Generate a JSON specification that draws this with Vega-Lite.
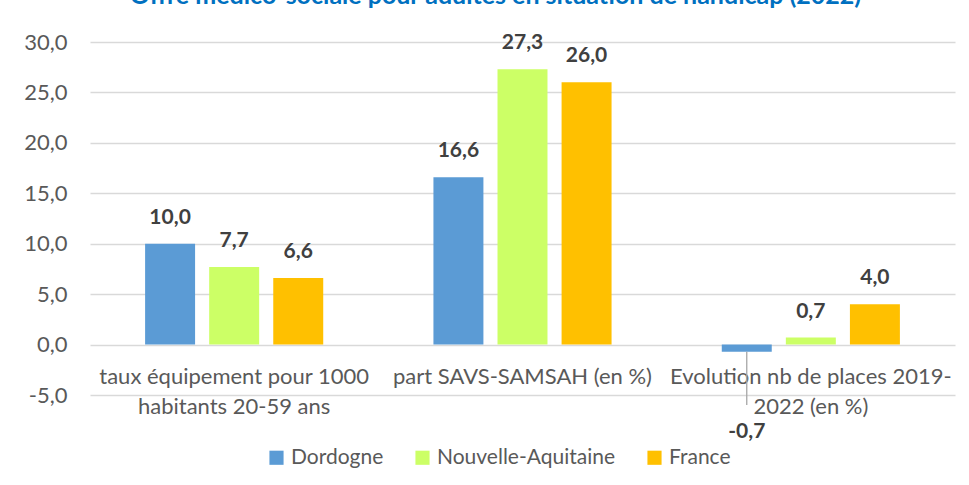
{
  "$schema": "https://vega.github.io/schema/vega-lite/v6.json",
  "autosize": {"type": "none"},
  "width": 865,
  "height": 353,
  "padding": {"left": 90, "top": 42, "right": 14, "bottom": 90},
  "background": "white",
  "config": {
    "locale": {"number": {"decimal": ",", "thousands": " ", "grouping": [3], "currency": ["", " €"], "minus": "-"}},
    "font": "Lato",
    "view": {"stroke": null}
  },
  "title": {
    "text": "Offre médico-sociale pour adultes en situation de handicap (2022)",
    "color": "#0070C0",
    "fontSize": 25,
    "fontWeight": "bold",
    "font": "Lato",
    "anchor": "middle",
    "dx": -27,
    "offset": 22
  },
  "data": {
    "values": [
      {"cat": "taux équipement pour 1000 habitants 20-59 ans", "zone": "Dordogne", "value": 10.0},
      {"cat": "taux équipement pour 1000 habitants 20-59 ans", "zone": "Nouvelle-Aquitaine", "value": 7.7},
      {"cat": "taux équipement pour 1000 habitants 20-59 ans", "zone": "France", "value": 6.6},
      {"cat": "part SAVS-SAMSAH (en %)", "zone": "Dordogne", "value": 16.6},
      {"cat": "part SAVS-SAMSAH (en %)", "zone": "Nouvelle-Aquitaine", "value": 27.3},
      {"cat": "part SAVS-SAMSAH (en %)", "zone": "France", "value": 26.0},
      {"cat": "Evolution nb de places 2019-2022 (en %)", "zone": "Dordogne", "value": -0.7},
      {"cat": "Evolution nb de places 2019-2022 (en %)", "zone": "Nouvelle-Aquitaine", "value": 0.7},
      {"cat": "Evolution nb de places 2019-2022 (en %)", "zone": "France", "value": 4.0}
    ]
  },
  "encoding": {
    "x": {
      "field": "cat",
      "type": "nominal",
      "sort": ["taux équipement pour 1000 habitants 20-59 ans", "part SAVS-SAMSAH (en %)", "Evolution nb de places 2019-2022 (en %)"],
      "scale": {"paddingInner": 0, "paddingOuter": 0},
      "axis": {
        "title": null,
        "orient": "bottom",
        "offset": -50,
        "domain": false,
        "ticks": false,
        "tickSize": 0,
        "labelAngle": 0,
        "labelPadding": 21,
        "labelFontSize": 22,
        "labelLimit": 0,
        "labelColor": "#595959",
        "labelFont": "Lato",
        "labelLineHeight": 30,
        "labelExpr": "datum.value == 'taux équipement pour 1000 habitants 20-59 ans' ? ['taux équipement pour 1000', 'habitants 20-59 ans'] : datum.value == 'Evolution nb de places 2019-2022 (en %)' ? ['Evolution nb de places 2019-', '2022 (en %)'] : datum.value"
      }
    },
    "xOffset": {
      "field": "zone",
      "type": "nominal",
      "sort": ["Dordogne", "Nouvelle-Aquitaine", "France"],
      "scale": {"paddingInner": 0.22, "paddingOuter": 0.86}
    },
    "y": {
      "field": "value",
      "type": "quantitative",
      "scale": {"domain": [-5, 30], "nice": false, "zero": false},
      "axis": {
        "title": null,
        "values": [-5, 0, 5, 10, 15, 20, 25, 30],
        "format": ".1f",
        "domain": false,
        "ticks": false,
        "labelPadding": 23,
        "labelFontSize": 22,
        "labelColor": "#595959",
        "labelFont": "Lato",
        "gridColor": "#d9d9d9",
        "gridWidth": 1.3
      }
    }
  },
  "layer": [
    {
      "mark": {"type": "bar"},
      "encoding": {
        "y2": {"datum": 0},
        "color": {
          "field": "zone",
          "type": "nominal",
          "sort": ["Dordogne", "Nouvelle-Aquitaine", "France"],
          "scale": {"domain": ["Dordogne", "Nouvelle-Aquitaine", "France"], "range": ["#5B9BD5", "#CCFF66", "#FFC000"]},
          "legend": {
            "title": null,
            "orient": "none",
            "legendX": 176,
            "legendY": 405,
            "direction": "horizontal",
            "symbolType": "square",
            "symbolSize": 200,
            "symbolStrokeWidth": 0,
            "labelFontSize": 21,
            "labelLimit": 0,
            "labelColor": "#595959",
            "labelFont": "Lato",
            "labelOffset": 4,
            "columnPadding": 28
          }
        }
      }
    },
    {
      "transform": [{"filter": "datum.value >= 0"}],
      "mark": {"type": "text", "baseline": "middle", "dy": -26, "fontSize": 21, "fontWeight": "bold", "color": "#404040", "font": "Lato"},
      "encoding": {
        "text": {"field": "value", "type": "quantitative", "format": ".1f"}
      }
    },
    {
      "transform": [{"filter": "datum.value < 0"}],
      "mark": {"type": "text", "baseline": "middle", "dy": 80, "fontSize": 21, "fontWeight": "bold", "color": "#404040", "font": "Lato"},
      "encoding": {
        "text": {"field": "value", "type": "quantitative", "format": ".1f"}
      }
    },
    {
      "transform": [{"filter": "datum.value < 0"}],
      "mark": {"type": "rule", "color": "#a6a6a6", "strokeWidth": 1.3},
      "encoding": {
        "y2": {"datum": -6}
      }
    }
  ]
}
